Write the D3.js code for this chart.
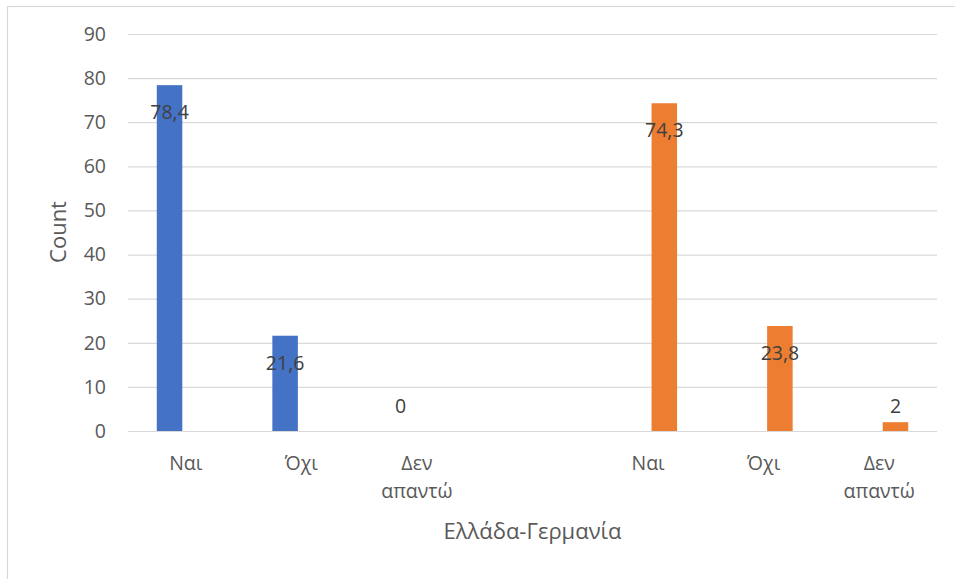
<!DOCTYPE html>
<html>
<head>
<meta charset="utf-8">
<script src="https://cdn.jsdelivr.net/npm/d3@7"></script>
<style>
  html, body { margin: 0; padding: 0; background: #fff; }
  svg { display: block; font-family: "Open Sans", "Noto Sans", sans-serif; }
</style>
</head>
<body>
<svg id="chart" width="955" height="579"></svg>
<script>
// Answers to the survey question, one group per country
const answers = ["Ναι", "Όχι", "Δεν απαντώ"];
const greece = [78.4, 21.6, 0];
const germany = [74.3, 23.8, 2];
const seriesNames = ["Ελλάδα", "Γερμανία"];
const seriesColors = ["#4472C4", "#ED7D31"];
const yTicks = [0, 10, 20, 30, 40, 50, 60, 70, 80, 90];
const xTitle = "Ελλάδα-Γερμανία";
const yTitle = "Count";

// Seven category slots: three answers for Greece, an empty gap, three for Germany
const slots = [
  ...answers.map((a, i) => ({ label: a, series: 0, value: greece[i] })),
  { label: "", series: null, value: null },
  ...answers.map((a, i) => ({ label: a, series: 1, value: germany[i] }))
];

const svg = d3.select("#chart");
const W = 955, H = 579;
const plot = { left: 128, right: 937, top: 34, bottom: 431 };

// Outer chart frame
svg.append("rect")
  .attr("x", 7.5).attr("y", 6.5)
  .attr("width", W).attr("height", H)
  .attr("fill", "none").attr("stroke", "#d9d9d9").attr("stroke-width", 1.2);

const y = d3.scaleLinear().domain([0, 90]).range([plot.bottom, plot.top]);
const x = d3.scaleBand().domain(d3.range(slots.length)).range([plot.left, plot.right]);
const xs = d3.scaleBand().domain([0, 1]).range([-29, 29]).paddingInner(0.215);

// Gridlines and tick labels
const yAxis = d3.axisLeft(y).tickValues(yTicks).tickSize(-(plot.right - plot.left)).tickPadding(22);
const gy = svg.append("g").attr("transform", `translate(${plot.left},0)`).call(yAxis);
gy.select(".domain").remove();
gy.selectAll(".tick line").attr("stroke", "#d9d9d9").attr("stroke-width", 1.2);
gy.selectAll(".tick text")
  .attr("fill", "#595959").attr("font-size", 19.5)
  .attr("font-family", "\"Open Sans\", sans-serif");

// Bars
const bars = slots.filter(d => d.series !== null);
svg.append("g").selectAll("rect").data(bars).join("rect")
  .attr("x", d => x(slots.indexOf(d)) + x.bandwidth() / 2 + xs(d.series))
  .attr("width", xs.bandwidth())
  .attr("y", d => y(d.value))
  .attr("height", d => y(0) - y(d.value))
  .attr("fill", d => seriesColors[d.series]);

// Value labels: inside the top of tall bars, above short ones
const fmt = v => String(v).replace(".", ",");
svg.append("g").selectAll("text").data(bars).join("text")
  .attr("x", d => x(slots.indexOf(d)) + x.bandwidth() / 2 + xs(d.series) + xs.bandwidth() / 2)
  .attr("y", d => d.value > 10 ? y(d.value) + 27 : y(0) - 25)
  .attr("dy", "0.35em")
  .attr("text-anchor", "middle")
  .attr("font-size", 19.5)
  .attr("fill", "#404040")
  .text(d => fmt(d.value));

// Category labels, wrapped onto two lines where needed
const cat = svg.append("g").selectAll("text").data(slots.filter(d => d.label)).join("text")
  .attr("text-anchor", "middle")
  .attr("font-size", 19.5)
  .attr("fill", "#595959")
  .attr("transform", d => `translate(${x(slots.indexOf(d)) + x.bandwidth() / 2},463)`);
cat.each(function (d) {
  const words = d.label.split(" ");
  d3.select(this).selectAll("tspan").data(words).join("tspan")
    .attr("x", 0).attr("y", (w, i) => i * 28).attr("dy", "0.35em")
    .text(w => w);
});

// Axis titles
svg.append("text")
  .attr("x", (plot.left + plot.right) / 2).attr("y", 531).attr("dy", "0.35em")
  .attr("text-anchor", "middle").attr("font-size", 22).attr("fill", "#595959")
  .text(xTitle);

svg.append("text")
  .attr("transform", "translate(58,232) rotate(-90)")
  .attr("dy", "0.35em")
  .attr("text-anchor", "middle").attr("font-size", 22).attr("fill", "#595959")
  .text(yTitle);
</script>
</body>
</html>
